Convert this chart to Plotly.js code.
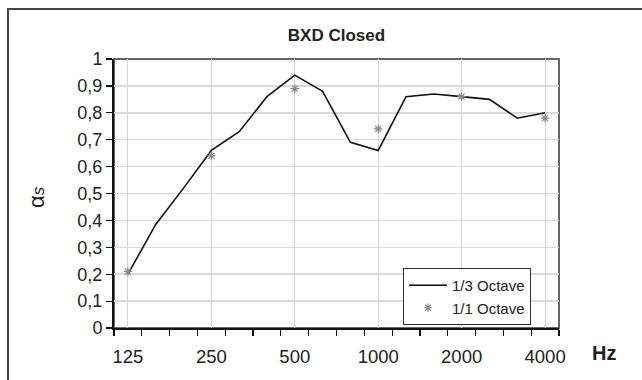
<!DOCTYPE html>
<html>
<head>
<meta charset="utf-8">
<script src="https://cdn.plot.ly/plotly-3.0.1.min.js"></script>
<style>
html,body{margin:0;padding:0;background:#fff;}
#chart{width:642px;height:380px;}
</style>
</head>
<body>
<div id="chart"></div>
<script>
// 1/3-octave band centre frequencies (categories)
var categories = ['125','160','200','250','315','400','500','630','800','1000','1250','1600','2000','2500','3150','4000'];
// 1/3 octave absorption values
var thirdOctave = [0.20,0.385,0.52,0.66,0.73,0.86,0.94,0.88,0.69,0.66,0.86,0.87,0.86,0.85,0.78,0.80];
// 1/1 octave bands and values
var octaveBands = ['125','250','500','1000','2000','4000'];
var octave = [0.21,0.64,0.89,0.74,0.86,0.78];
// tick labels shown on x axis
var tickLabels = ['125','250','500','1000','2000','4000'];

var FONT = '"Liberation Sans",Arial,sans-serif';

var xIdx = categories.map(function(c,i){return i;});
var octIdx = octaveBands.map(function(b){return categories.indexOf(b);});
var tickIdx = tickLabels.map(function(b){return categories.indexOf(b);});
var bounds = [];
for (var i = 0; i <= categories.length; i++) bounds.push(i - 0.5);

var M = {l:114, r:83, t:59, b:52};
var W = 642, H = 380;
var pw = W - M.l - M.r, ph = H - M.t - M.b;
function px(x){return (x - M.l)/pw;}
function py(y){return (H - M.b - y)/ph;}

var traces = [
  {x: xIdx, y: thirdOctave, name: '1/3 Octave', type: 'scatter', mode: 'lines',
   line: {color: '#111', width: 1.6}},
  {x: octIdx, y: octave, name: '1/1 Octave', type: 'scatter', mode: 'markers',
   marker: {symbol: 'asterisk-open', size: 7, color: '#888', line: {color: '#888', width: 1.2}}}
];

var layout = {
  width: W, height: H,
  margin: M,
  paper_bgcolor: '#fff', plot_bgcolor: '#fff',
  separators: ',.',
  font: {family: FONT, color: '#222', size: 18},
  showlegend: true,
  title: {text: 'BXD Closed', font: {family: FONT, size: 17, weight: 'bold', color: '#222'},
          x: 0.5, xref: 'paper', xanchor: 'center', y: 1 - 35/H, yanchor: 'middle'},
  xaxis: {
    range: [-0.5, categories.length - 0.5],
    tickmode: 'array', tickvals: tickIdx, ticktext: tickLabels,
    ticks: '', showgrid: true, gridcolor: '#d6d6d6', gridwidth: 1,
    zeroline: false, showline: true, linecolor: '#111', linewidth: 2,
    tickfont: {family: FONT, size: 18.5, color: '#222'},
    ticklabelstandoff: 11,
    minor: {tickmode: 'array', tickvals: bounds, ticks: 'outside', ticklen: 6, tickwidth: 1.2, tickcolor: '#111', showgrid: false},
    fixedrange: true
  },
  yaxis: {
    range: [0, 1], dtick: 0.1, tick0: 0,
    ticks: 'outside', ticklen: 6, tickwidth: 1.2, tickcolor: '#111',
    showgrid: true, gridcolor: '#dadada', gridwidth: 1.5,
    zeroline: false, showline: true, linecolor: '#111', linewidth: 2,
    tickfont: {family: FONT, size: 18, color: '#222'},
    fixedrange: true
  },
  legend: {
    x: px(403), y: py(268), xanchor: 'left', yanchor: 'top',
    bgcolor: '#fff', bordercolor: '#333', borderwidth: 1,
    font: {family: FONT, size: 15, color: '#222'},
    itemwidth: 38, tracegroupgap: 0
  },
  shapes: [
    {type: 'rect', xref: 'paper', yref: 'paper', x0: 0, x1: 1, y0: 0, y1: 1,
     line: {color: '#666', width: 2}, layer: 'below'},
    {type: 'rect', xref: 'paper', yref: 'paper', x0: px(8), x1: px(660), y0: py(400), y1: py(9),
     line: {color: '#444', width: 2}, fillcolor: 'rgba(0,0,0,0)'}
  ],
  annotations: [
    {text: 'Hz', xref: 'paper', yref: 'paper', x: px(604), y: py(353), xanchor: 'center', yanchor: 'middle',
     showarrow: false, font: {family: FONT, size: 20, weight: 'bold', color: '#222'}},
    {text: 'α<span style="font-style:italic;font-size:17px">s</span>', xref: 'paper', yref: 'paper',
     x: px(36), y: py(197), xanchor: 'center', yanchor: 'middle', textangle: -90,
     showarrow: false, font: {family: FONT, size: 22, color: '#222'}}
  ]
};

Plotly.newPlot('chart', traces, layout, {displayModeBar: false, staticPlot: true});
</script>
</body>
</html>
